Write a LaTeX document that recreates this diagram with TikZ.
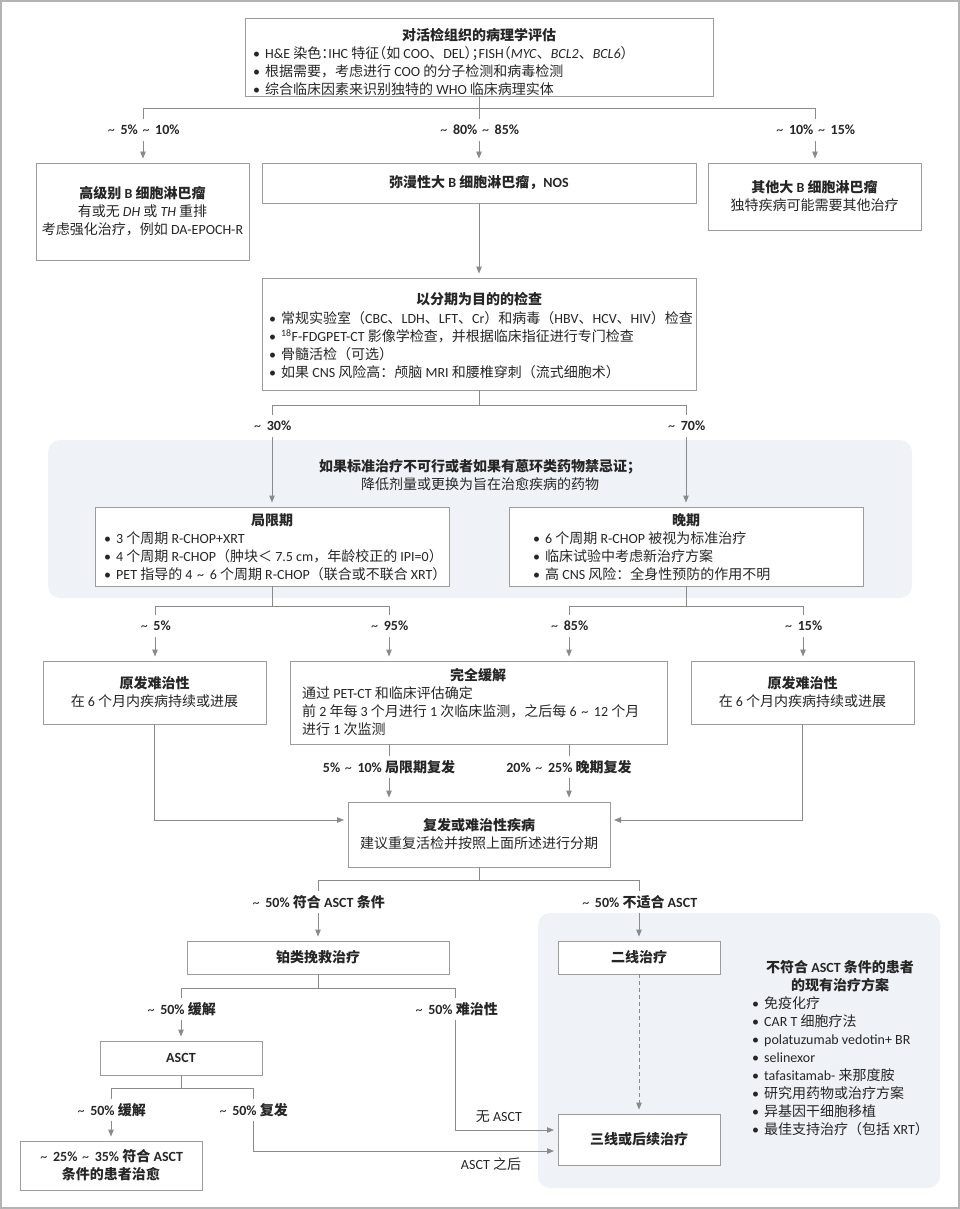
\documentclass[tikz,border=0pt]{standalone}
\usepackage{fontspec}
\setmainfont{Carlito}
\newfontfamily\cjkf{Noto Sans CJK SC}
\usetikzlibrary{arrows.meta}
\XeTeXinterchartokenstate=1
\newXeTeXintercharclass\cjkcls
\newcount\cjkcnt
\cjkcnt="3000 \loop\ifnum\cjkcnt<"3040 \XeTeXcharclass\cjkcnt=\cjkcls \advance\cjkcnt by 1 \repeat
\cjkcnt="4E00 \loop\ifnum\cjkcnt<"A000 \XeTeXcharclass\cjkcnt=\cjkcls \advance\cjkcnt by 1 \repeat
\cjkcnt="FF00 \loop\ifnum\cjkcnt<"FFF0 \XeTeXcharclass\cjkcnt=\cjkcls \advance\cjkcnt by 1 \repeat
\XeTeXinterchartoks 0 \cjkcls = {\cjkf}
\XeTeXinterchartoks 4095 \cjkcls = {\cjkf}
\XeTeXinterchartoks \cjkcls 0 = {\rmfamily}
\XeTeXinterchartoks 4095 0 = {\rmfamily}
\definecolor{lc}{HTML}{8A8A8A}
\definecolor{bc}{HTML}{9C9C9C}
\definecolor{tc}{HTML}{262626}
\definecolor{bg}{HTML}{EFF3F7}
\definecolor{fr}{HTML}{B4B4B4}
\newcommand\fs{\fontsize{14}{18}\selectfont}
\newcommand\bul{\makebox[12pt][l]{•}}
\newcommand\hl[1]{\makebox[7pt][l]{#1}}
\newcommand\hr[1]{\makebox[7pt][r]{#1}}
\newcommand\tl{\kern1.5pt{\mdseries\textasciitilde}\kern2.5pt}
\begin{document}
\begin{tikzpicture}[x=1pt,y=-1pt,
 box/.style={draw=bc,line width=0.9pt,fill=white,inner sep=0pt,text=tc,font=\fs,align=center},
 txt/.style={text=tc,inner sep=0pt,font=\fs},
 btxt/.style={txt,font=\fs\bfseries},
 lst/.style={txt,align=left},
 lab/.style={txt,font=\fs\bfseries,minimum height=22pt},
 conn/.style={draw=lc,line width=0.9pt},
 arr/.style={conn,-{Triangle[length=7pt,width=5.5pt]},shorten >=4pt},
 region/.style={fill=bg,draw=none,rounded corners=12pt}]
\useasboundingbox (0,0) rectangle (960,1209);
\fill[white] (0,0) rectangle (960,1209);
\draw[draw=fr,line width=2pt] (1,1) rectangle (959,1208);
\fill[region] (48,440) rectangle (912,598);
\fill[region] (538,913) rectangle (940,1188);

% ---------- boxes ----------
\node[box,minimum width=468pt,minimum height=78pt] (top) at (479,57) {};
\node[btxt] (topT) at (479,35) {对活检组织的病理学评估};
\node[lst,anchor=west] (topL) at (253,71) {\bul H\&E 染色\hl{：}IHC 特征\hr{（}如 COO、DEL\hl{）}\hl{；}FISH\hr{（}\textit{MYC}、\textit{BCL2}、\textit{BCL6}\hl{）}\\\bul 根据需要，考虑进行 COO 的分子检测和病毒检测\\\bul 综合临床因素来识别独特的 WHO 临床病理实体};

\node[box,minimum width=213pt,minimum height=97pt] (hgbl) at (142.5,211.5) {\textbf{高级别 B 细胞淋巴瘤}\\有或无 \textit{DH} 或 \textit{TH} 重排\\考虑强化治疗，例如 DA-EPOCH-R};
\node[box,minimum width=434pt,minimum height=40pt,font=\fs\bfseries] (dlbcl) at (479,183) {弥漫性大 B 细胞淋巴瘤，NOS};
\node[box,minimum width=213pt,minimum height=67pt] (other) at (814.5,196.5) {\textbf{其他大 B 细胞淋巴瘤}\\独特疾病可能需要其他治疗};

\node[box,minimum width=434pt,minimum height=112pt] (staging) at (479,334) {};
\node[btxt] (stagingT) at (479,299) {以分期为目的的检查};
\node[lst,anchor=west] (stagingL) at (269,345) {\bul 常规实验室（CBC、LDH、LFT、Cr）和病毒（HBV、HCV、HIV）检查\\\bul \textsuperscript{18}F-FDGPET-CT 影像学检查，并根据临床指征进行专门检查\\\bul 骨髓活检（可选）\\\bul 如果 CNS 风险高：颅脑 MRI 和腰椎穿刺（流式细胞术）};

\node[btxt,align=center] (bgT) at (480,475) {如果标准治疗不可行或者如果有蒽环类药物禁忌证；\\\mdseries 降低剂量或更换为旨在治愈疾病的药物};

\node[box,minimum width=354pt,minimum height=79pt] (local) at (272,546.5) {};
\node[btxt] (localT) at (272,520) {局限期};
\node[lst,anchor=west] (localL) at (104,556) {\bul 3 个周期 R-CHOP+XRT\\\bul 4 个周期 R-CHOP（肿块＜ 7.5 cm，年龄校正的 IPI=0）\\\bul PET 指导的 4 \tl{} 6 个周期 R-CHOP（联合或不联合 XRT）};

\node[box,minimum width=354pt,minimum height=79pt] (late) at (686,546.5) {};
\node[btxt] (lateT) at (686,520) {晚期};
\node[lst,anchor=west] (lateL) at (533,556) {\bul 6 个周期 R-CHOP 被视为标准治疗\\\bul 临床试验中考虑新治疗方案\\\bul 高 CNS 风险：全身性预防的作用不明};

\node[box,minimum width=223pt,minimum height=63pt] (prim1) at (154.5,692.5) {\textbf{原发难治性}\\在 6 个月内疾病持续或进展};
\node[box,minimum width=377pt,minimum height=83pt] (CR) at (478.5,702.5) {};
\node[btxt] (CRT) at (478,675) {完全缓解};
\node[lst,anchor=west] (CRL) at (302,711) {通过 PET-CT 和临床评估确定\\前 2 年每 3 个月进行 1 次临床监测，之后每 6 \tl{} 12 个月\\进行 1 次监测};
\node[box,minimum width=223pt,minimum height=63pt] (prim2) at (802.5,692.5) {\textbf{原发难治性}\\在 6 个月内疾病持续或进展};

\node[box,minimum width=262pt,minimum height=65pt] (relapse) at (479,834.5) {\textbf{复发或难治性疾病}\\建议重复活检并按照上面所述进行分期};

\node[box,minimum width=262pt,minimum height=33pt,font=\fs\bfseries] (plat) at (318,957.5) {铂类挽救治疗};
\node[box,minimum width=162pt,minimum height=33pt,font=\fs\bfseries] (second) at (639,957.5) {二线治疗};
\node[box,minimum width=162pt,minimum height=34pt,font=\fs\bfseries] (ASCT) at (181,1058) {ASCT};
\node[box,minimum width=182pt,minimum height=49pt,font=\fs\bfseries] (cure) at (111,1165.5) {\tl{} 25\% \tl{} 35\% 符合 ASCT\\条件的患者治愈};
\node[box,minimum width=162pt,minimum height=51pt,font=\fs\bfseries] (third) at (639,1139.5) {三线或后续治疗};

\node[btxt,align=center] (optT) at (840,976) {不符合 ASCT 条件的患者\\的现有治疗方案};
\node[lst,anchor=west] (optL) at (752,1066) {\bul 免疫化疗\\\bul CAR T 细胞疗法\\\bul polatuzumab vedotin+ BR\\\bul selinexor\\\bul tafasitamab- 来那度胺\\\bul 研究用药物或治疗方案\\\bul 异基因干细胞移植\\\bul 最佳支持治疗（包括 XRT）};

% ---------- labels ----------
\node[lab] (l1a) at (143,130) {\tl{} 5\% \tl{} 10\%};
\node[lab] (l1b) at (479,130) {\tl{} 80\% \tl{} 85\%};
\node[lab] (l1c) at (815,130) {\tl{} 10\% \tl{} 15\%};
\node[lab] (l2a) at (272,426) {\tl{} 30\%};
\node[lab] (l2b) at (686,426) {\tl{} 70\%};
\node[lab] (l3a) at (155,626) {\tl{} 5\%};
\node[lab] (l3b) at (389,626) {\tl{} 95\%};
\node[lab] (l3c) at (569,626) {\tl{} 85\%};
\node[lab] (l3d) at (803,626) {\tl{} 15\%};
\node[lab] (l4a) at (389,767) {5\% \tl{} 10\% 局限期复发};
\node[lab] (l4b) at (569,767) {20\% \tl{} 25\% 晚期复发};
\node[lab] (l5a) at (318,902) {\tl{} 50\% 符合 ASCT 条件};
\node[lab] (l5b) at (639,902) {\tl{} 50\% 不适合 ASCT};
\node[lab] (l6a) at (181,1009) {\tl{} 50\% 缓解};
\node[lab] (l6b) at (456,1009) {\tl{} 50\% 难治性};
\node[lab] (l7a) at (111,1110) {\tl{} 50\% 缓解};
\node[lab] (l7b) at (253,1110) {\tl{} 50\% 复发};
\node[txt] (noasct) at (499,1117) {无 ASCT};
\node[txt] (after) at (491,1164) {ASCT 之后};

% ---------- coordinates ----------
\coordinate (s1l) at (143,108);
\coordinate (s1r) at (815,108);
\coordinate (s2) at (479,405);
\coordinate (s2l) at (272,405);
\coordinate (s2r) at (686,405);
\coordinate (s3a) at (272,606);
\coordinate (s3l) at (155,606);
\coordinate (s3r) at (389,606);
\coordinate (s3b) at (686,606);
\coordinate (s3c) at (569,606);
\coordinate (s3d) at (803,606);
\coordinate (j1) at (348,820);
\coordinate (j2) at (610,820);
\coordinate (s5) at (479,880);
\coordinate (s5l) at (318,880);
\coordinate (s5r) at (639,880);
\coordinate (s6) at (318,988);
\coordinate (s6l) at (181,988);
\coordinate (s6r) at (455,988);
\coordinate (j3) at (558,1130);
\coordinate (s7) at (181,1088);
\coordinate (s7l) at (111,1088);
\coordinate (s7r) at (253,1088);
\coordinate (j4) at (558,1151);

% ---------- connectors ----------
\draw[conn] (s1l) -- (s1r);
\draw[conn] (top.south) -- (l1b.north);
\draw[conn] (s1l) -- (l1a.north);
\draw[conn] (s1r) -- (l1c.north);
\draw[arr] (l1a.south) -- (l1a.south |- hgbl.north);
\draw[arr] (l1b.south) -- (dlbcl.north);
\draw[arr] (l1c.south) -- (l1c.south |- other.north);
\draw[arr] (dlbcl.south) -- (staging.north);

\draw[conn] (staging.south) -- (s2);
\draw[conn] (s2l) -- (s2r);
\draw[conn] (s2l) -- (l2a.north);
\draw[conn] (s2r) -- (l2b.north);
\draw[arr] (l2a.south) -- (local.north);
\draw[arr] (l2b.south) -- (late.north);

\draw[conn] (local.south) -- (s3a);
\draw[conn] (s3l) -- (s3r);
\draw[conn] (s3l) -- (l3a.north);
\draw[conn] (s3r) -- (l3b.north);
\draw[conn] (late.south) -- (s3b);
\draw[conn] (s3c) -- (s3d);
\draw[conn] (s3c) -- (l3c.north);
\draw[conn] (s3d) -- (l3d.north);
\draw[arr] (l3a.south) -- (l3a.south |- prim1.north);
\draw[arr] (l3b.south) -- (l3b.south |- CR.north);
\draw[arr] (l3c.south) -- (l3c.south |- CR.north);
\draw[arr] (l3d.south) -- (l3d.south |- prim2.north);

\draw[conn] (l4a.north |- CR.south) -- (l4a.north);
\draw[conn] (l4b.north |- CR.south) -- (l4b.north);
\draw[arr] (l4a.south) -- (l4a.south |- relapse.north);
\draw[arr] (l4b.south) -- (l4b.south |- relapse.north);
\draw[arr] (prim1.south) |- (j1);
\draw[arr] (prim2.south) |- (j2);

\draw[conn] (relapse.south) -- (s5);
\draw[conn] (s5l) -- (s5r);
\draw[conn] (s5l) -- (l5a.north);
\draw[conn] (s5r) -- (l5b.north);
\draw[arr] (l5a.south) -- (plat.north);
\draw[arr] (l5b.south) -- (second.north);

\draw[conn] (plat.south) -- (s6);
\draw[conn] (s6l) -- (s6r);
\draw[conn] (s6l) -- (l6a.north);
\draw[conn] (s6r) -- (l6b.north -| s6r);
\draw[arr] (l6a.south) -- (ASCT.north);
\draw[arr] (l6b.south -| s6r) |- (j3);

\draw[conn] (ASCT.south) -- (s7);
\draw[conn] (s7l) -- (s7r);
\draw[conn] (s7l) -- (l7a.north);
\draw[conn] (s7r) -- (l7b.north);
\draw[arr] (l7a.south) -- (l7a.south |- cure.north);
\draw[arr] (l7b.south) |- (j4);

\draw[arr,dash pattern=on 4pt off 3pt] (second.south) -- (third.north);
\end{tikzpicture}
\end{document}
